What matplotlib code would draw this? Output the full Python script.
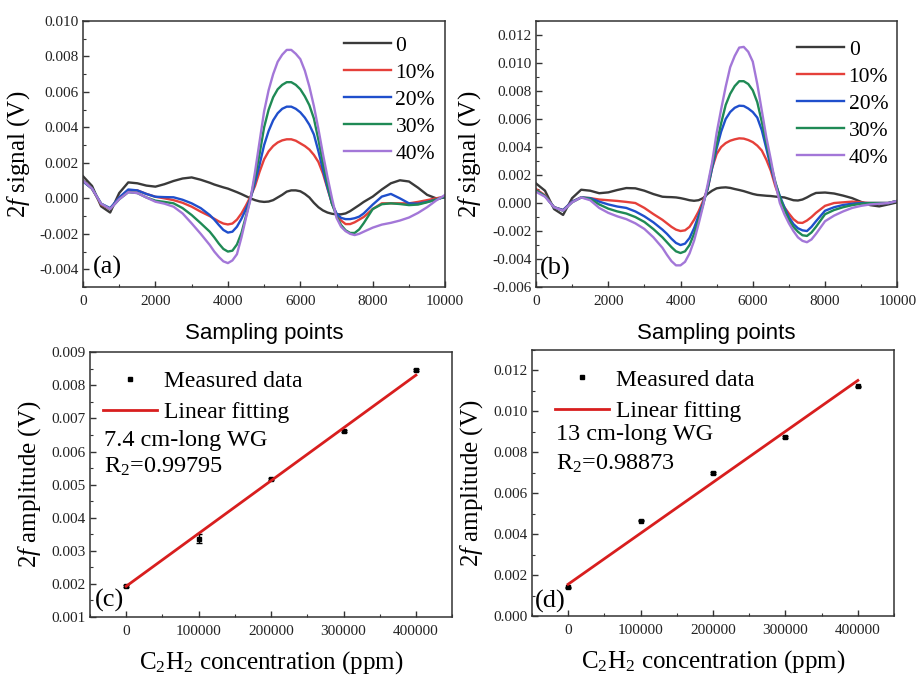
import matplotlib.pyplot as plt
from matplotlib.ticker import MultipleLocator, FormatStrFormatter
import numpy as np

plt.rcParams['font.family'] = 'Liberation Serif'
plt.rcParams['mathtext.fontset'] = 'custom'
plt.rcParams['mathtext.rm'] = 'Liberation Serif'
plt.rcParams['mathtext.it'] = 'Liberation Serif:italic'

# sampling points where the curves were read (finer around the peak)
samples = list(range(0, 3500, 250)) + list(range(3500, 7751, 125)) + list(range(8000, 10001, 250))
labels = ['0', '10%', '20%', '30%', '40%']
colors = ['#3a3a3a', '#e5403a', '#1f4fcc', '#1f8a55', '#a377d8']

# (a) 7.4 cm-long WG, 2f signal in mV
a_0 = [1.25, 0.7, -0.45, -0.8, 0.3, 0.9, 0.85, 0.72, 0.66, 0.8, 0.98, 1.12, 1.18, 1.05,
       0.88, 0.78, 0.7, 0.62, 0.55, 0.45, 0.35, 0.24, 0.12, 0.0, -0.1, -0.17, -0.2, -0.18, -0.1, 0.05, 0.2, 0.38,
       0.45, 0.45, 0.4, 0.25, 0.05, -0.25, -0.5, -0.68, -0.8, -0.87, -0.9, -0.9, -0.85, -0.72, -0.55, -0.38, -0.2,
       0.1, 0.5, 0.85, 1.02, 0.95, 0.6, 0.2, 0.0, 0.05]
a_10 = [1.0, 0.55, -0.35, -0.6, 0.05, 0.45, 0.45, 0.25, 0.09, 0.0, -0.1, -0.25, -0.47, -0.75,
        -1.0, -1.15, -1.3, -1.42, -1.47, -1.42, -1.2, -0.85, -0.4, 0.1, 0.7, 1.5, 2.2, 2.65, 2.95, 3.15, 3.27, 3.33,
        3.33, 3.25, 3.1, 2.95, 2.75, 2.45, 2.05, 1.4, 0.55, -0.3, -0.9, -1.25, -1.45, -1.45, -1.35, -1.2, -1.05,
        -0.6, -0.28, -0.28, -0.28, -0.28, -0.2, -0.1, 0.0, 0.1]
a_20 = [0.95, 0.55, -0.3, -0.55, 0.05, 0.5, 0.45, 0.25, 0.09, 0.07, 0.06, -0.08, -0.28, -0.55,
        -0.94, -1.2, -1.5, -1.78, -1.93, -1.88, -1.6, -1.15, -0.6, 0.0, 0.9, 1.9, 3.0, 3.8, 4.4, 4.8, 5.05, 5.17,
        5.17, 5.05, 4.85, 4.55, 4.15, 3.6, 2.65, 1.6, 0.6, -0.3, -0.85, -1.1, -1.17, -1.17, -1.12, -1.03, -0.85,
        -0.35, 0.1, 0.25, 0.0, -0.28, -0.3, -0.2, -0.07, 0.1]
a_30 = [1.0, 0.55, -0.3, -0.6, -0.05, 0.35, 0.3, 0.05, -0.13, -0.2, -0.28, -0.55, -0.94, -1.4,
        -1.88, -2.2, -2.55, -2.85, -3.0, -2.95, -2.6, -1.95, -1.0, 0.0, 1.2, 2.5, 4.0, 5.0, 5.7, 6.15, 6.4, 6.55,
        6.55, 6.4, 6.15, 5.75, 5.25, 4.5, 3.3, 2.0, 0.8, -0.3, -1.0, -1.5, -1.8, -1.95, -1.95, -1.75, -1.4,
        -0.6, -0.33, -0.28, -0.32, -0.38, -0.35, -0.22, -0.07, 0.1]
a_40 = [1.0, 0.55, -0.3, -0.6, -0.05, 0.35, 0.3, 0.05, -0.19, -0.3, -0.47, -0.85, -1.41, -2.0,
        -2.63, -3.0, -3.3, -3.55, -3.65, -3.5, -3.15, -2.2, -1.1, -0.05, 1.5, 3.2, 4.9, 6.1, 7.0, 7.7, 8.1, 8.37,
        8.37, 8.15, 7.85, 7.2, 6.3, 5.2, 3.9, 2.5, 1.2, 0.0, -1.1, -1.6, -1.85, -2.0, -2.07, -2.0, -1.88,
        -1.65, -1.48, -1.38, -1.25, -1.08, -0.82, -0.5, -0.12, 0.2]

# (b) 13 cm-long WG, 2f signal in mV
b_0 = [1.4, 0.88, -0.43, -0.85, 0.35, 0.95, 0.88, 0.7, 0.76, 0.93, 1.07, 1.05, 0.88, 0.64,
       0.45, 0.43, 0.42, 0.4, 0.35, 0.28, 0.2, 0.16, 0.2, 0.35, 0.65, 0.88, 1.05, 1.1, 1.12, 1.08, 1.0, 0.93,
       0.85, 0.75, 0.65, 0.58, 0.55, 0.52, 0.5, 0.46, 0.43, 0.4, 0.3, 0.2, 0.18, 0.25, 0.4, 0.58, 0.72,
       0.75, 0.68, 0.53, 0.35, 0.08, -0.15, -0.24, -0.1, 0.05]
b_10 = [1.0, 0.55, -0.3, -0.5, 0.1, 0.4, 0.35, 0.25, 0.2, 0.15, 0.08, 0.0, -0.35, -0.79,
        -1.2, -1.45, -1.7, -1.9, -2.0, -1.95, -1.7, -1.2, -0.6, 0.15, 1.0, 2.5, 3.5, 4.0, 4.28, 4.45, 4.55, 4.62,
        4.6, 4.5, 4.35, 4.1, 3.75, 3.1, 2.3, 1.2, 0.3, -0.3, -0.75, -1.15, -1.4, -1.42, -1.25, -1.0, -0.7,
        -0.2, 0.0, 0.05, 0.1, 0.05, 0.0, 0.0, 0.0, 0.15]
b_20 = [0.9, 0.5, -0.3, -0.5, 0.1, 0.4, 0.35, 0.1, -0.1, -0.25, -0.35, -0.6, -0.95, -1.38,
        -1.9, -2.2, -2.55, -2.85, -3.0, -2.9, -2.5, -1.8, -0.9, 0.0, 1.0, 2.5, 3.9, 5.1, 6.0, 6.5, 6.8, 6.95,
        6.93, 6.75, 6.5, 6.1, 5.2, 3.9, 2.55, 1.4, 0.5, -0.3, -1.0, -1.5, -1.8, -1.95, -2.0, -1.7, -1.3,
        -0.55, -0.3, -0.14, -0.05, 0.0, 0.0, 0.0, 0.0, 0.15]
b_30 = [0.9, 0.5, -0.3, -0.55, 0.05, 0.4, 0.3, -0.1, -0.4, -0.6, -0.75, -1.0, -1.35, -1.86,
        -2.45, -2.8, -3.15, -3.45, -3.57, -3.45, -3.0, -2.2, -1.2, -0.1, 1.1, 2.7, 4.2, 5.7, 7.0, 7.8, 8.35, 8.7,
        8.7, 8.5, 8.05, 7.2, 5.8, 4.3, 2.8, 1.5, 0.4, -0.45, -1.2, -1.7, -2.05, -2.3, -2.35, -2.1, -1.7,
        -0.8, -0.5, -0.3, -0.15, -0.05, 0.0, 0.0, 0.0, 0.15]
b_40 = [0.8, 0.45, -0.3, -0.55, 0.05, 0.4, 0.2, -0.35, -0.7, -0.95, -1.15, -1.45, -1.85, -2.45,
        -3.2, -3.7, -4.15, -4.45, -4.45, -4.2, -3.6, -2.7, -1.5, -0.2, 1.3, 2.9, 5.0, 6.7, 8.3, 9.7, 10.5, 11.1,
        11.15, 10.8, 10.1, 8.5, 6.6, 4.7, 3.1, 1.4, 0.0, -0.8, -1.45, -2.0, -2.45, -2.7, -2.8, -2.6, -2.2,
        -1.3, -0.9, -0.6, -0.35, -0.2, -0.1, -0.05, 0.0, 0.15]

# (c), (d) 2f amplitude versus C2H2 concentration
conc = [0, 100000, 200000, 300000, 400000]
amp_c = [0.00193, 0.00337, 0.00518, 0.00662, 0.00846]
err_c = [0.00003, 0.00014, 0.00003, 0.00003, 0.00003]
amp_d = [0.00140, 0.00465, 0.00699, 0.00875, 0.01122]
err_d = [0.00003, 0.00003, 0.00003, 0.00003, 0.00003]
fit_x = [0, 400000]
fit_c = [0.00193, 0.00831]
fit_d = [0.00155, 0.01151]

TICK_COLOR = '#333333'


def style_axes(ax, xmajor, xminor, ymajor, yminor, yfmt):
    ax.xaxis.set_major_locator(MultipleLocator(xmajor))
    ax.xaxis.set_minor_locator(MultipleLocator(xminor))
    ax.yaxis.set_major_locator(MultipleLocator(ymajor))
    ax.yaxis.set_minor_locator(MultipleLocator(yminor))
    ax.yaxis.set_major_formatter(FormatStrFormatter(yfmt))
    ax.xaxis.set_major_formatter(FormatStrFormatter('%d'))
    ax.tick_params(which='both', direction='in', top=False, right=False,
                   color=TICK_COLOR, labelcolor='#222222', labelsize=11)
    ax.tick_params(which='major', length=4, width=1)
    ax.tick_params(which='minor', length=2.5, width=0.8)
    ax.tick_params(axis='x', pad=6)
    ax.tick_params(axis='y', pad=3)
    for sp in ax.spines.values():
        sp.set_linewidth(1.1)
        sp.set_color(TICK_COLOR)


def signal_panel(rect, curves, ylim, tag, tag_pos, leg_anchor):
    ax = fig.add_axes(rect)
    x = np.array(samples)
    for vals, lab, col in zip(curves, labels, colors):
        ax.plot(x, np.array(vals) / 1000, color=col, lw=1.7, label=lab)
    ax.set_xlim(0, 10000)
    ax.set_ylim(*ylim)
    style_axes(ax, 2000, 1000, 0.002, 0.001, '%.3f')
    ax.set_ylabel(r'2$\mathit{f}$ signal (V)', fontsize=18)
    ax.set_xlabel('Sampling points', fontsize=16, family='Liberation Sans')
    ax.xaxis.set_label_coords(0.5, -0.135)
    ax.legend(loc='upper right', bbox_to_anchor=leg_anchor, frameon=False,
              fontsize=15.5, handlelength=2.2, handletextpad=0.2,
              labelspacing=0.32, borderpad=0, borderaxespad=0)
    ax.text(tag_pos[0], tag_pos[1], tag, transform=ax.transAxes,
            fontsize=19, ha='left', va='center')
    return ax


def amplitude_panel(rect, amp, err, fit, ylim, ymajor, yfmt, tag, tag_pos,
                    leg_anchor, wg_text, r2_text, text_x, text_y):
    ax = fig.add_axes(rect)
    ax.errorbar(conc, amp, yerr=err, fmt='none', ecolor='black',
                elinewidth=1, capsize=2)
    ax.plot(conc, amp, 's', ms=3, color='black', label='Measured data')
    ax.plot(fit_x, fit, color='#d81e1e', lw=2, label='Linear fitting')
    ax.set_xlim(-50000, 450000)
    ax.set_ylim(*ylim)
    style_axes(ax, 100000, 50000, ymajor, ymajor / 2, yfmt)
    ax.set_ylabel(r'2$\mathit{f}$ amplitude (V)', fontsize=18)
    ax.set_xlabel(r'C$_2$H$_2$ concentration (ppm)', fontsize=18)
    ax.xaxis.set_label_coords(0.5, -0.122)
    ax.legend(loc='upper left', bbox_to_anchor=leg_anchor, frameon=False,
              fontsize=17, handlelength=2.3, handletextpad=0.3,
              labelspacing=0.42, borderpad=0, borderaxespad=0)
    ax.text(text_x, text_y[0], wg_text, transform=ax.transAxes,
            fontsize=17.5, ha='left', va='center')
    ax.text(text_x, text_y[1], r2_text, transform=ax.transAxes,
            fontsize=17.5, ha='left', va='center')
    ax.text(tag_pos[0], tag_pos[1], tag, transform=ax.transAxes,
            fontsize=19, ha='left', va='center')
    return ax


fig = plt.figure(figsize=(9.17, 6.77), dpi=100)

ax_a = signal_panel([0.0905, 0.576, 0.395, 0.393], [a_0, a_10, a_20, a_30, a_40],
                    (-0.005, 0.010), '(a)', (0.028, 0.075), (0.972, 0.945))
ax_a.yaxis.set_label_coords(-0.14, 0.5)

ax_b = signal_panel([0.5845, 0.576, 0.394, 0.393], [b_0, b_10, b_20, b_30, b_40],
                    (-0.006, 0.013), '(b)', (0.011, 0.071), (0.975, 0.929))
ax_b.yaxis.set_label_coords(-0.147, 0.5)

ax_c = amplitude_panel([0.0981, 0.0886, 0.395, 0.391], amp_c, err_c, fit_c,
                       (0.001, 0.009), 0.001, '%.3f', '(c)', (0.014, 0.064),
                       (0.036, 0.932), '7.4 cm-long WG', r'R$_2$=0.99795',
                       0.039, (0.667, 0.568))
ax_c.yaxis.set_label_coords(-0.13, 0.5)

ax_d = amplitude_panel([0.580, 0.0901, 0.395, 0.393], amp_d, err_d, fit_d,
                       (0.0, 0.013), 0.002, '%.3f', '(d)', (0.008, 0.056),
                       (0.064, 0.928), '13 cm-long WG', r'R$_2$=0.98873',
                       0.068, (0.683, 0.572))
ax_d.yaxis.set_label_coords(-0.13, 0.5)

fig.savefig('out.png', dpi=100)
